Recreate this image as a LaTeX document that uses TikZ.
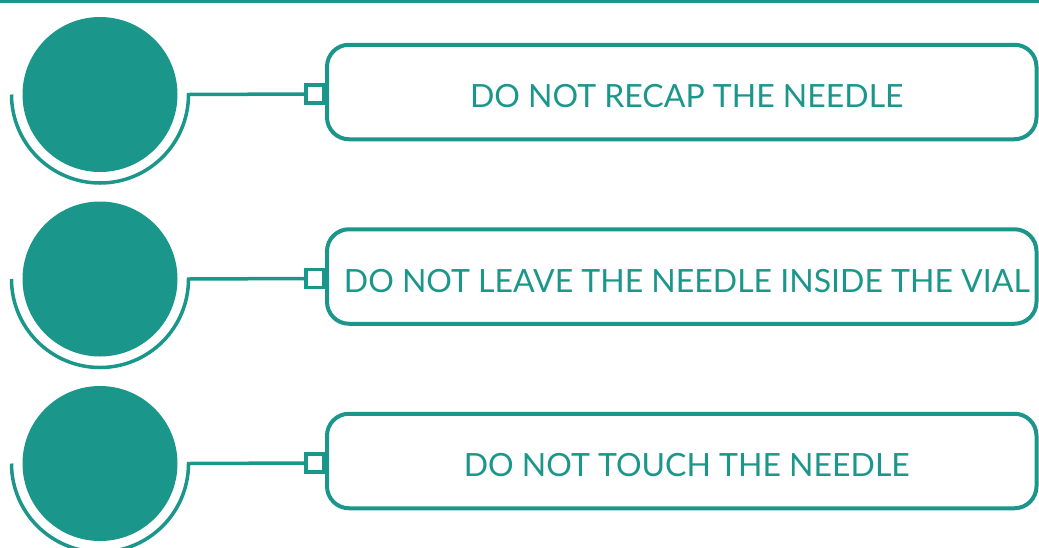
\documentclass[tikz,border=0pt]{standalone}
\usepackage{fontspec}
\setmainfont{Lato}
\usetikzlibrary{positioning}
\definecolor{needleteal}{RGB}{27,150,139}

\begin{document}
\begin{tikzpicture}[x=1pt,y=-1pt,
  disc/.style={circle,fill=needleteal,minimum size=155pt,inner sep=0pt},
  tag/.style={draw=needleteal,line width=3.5pt,minimum size=18pt,inner sep=0pt,fill=white},
  warnbox/.style={draw=needleteal,line width=4pt,rounded corners=22pt,minimum width=709.5pt,minimum height=94.5pt,inner sep=0pt,text height=31pt,text depth=0pt,text=needleteal,font=\fontsize{32}{38}\selectfont},
  ring/.style={draw=needleteal,line width=3.5pt}]
  \useasboundingbox (0,0) rectangle (1039,547);
  \draw[ring] (0,1.25) -- (1039,1.25);
  \foreach \i/\txt in {0/DO NOT RECAP THE NEEDLE,1/DO NOT LEAVE THE NEEDLE INSIDE THE VIAL,2/DO NOT TOUCH THE NEEDLE} {
    \node[disc] (disc\i) at (100,94.5+184.5*\i) {};
    \node[warnbox] (box\i) at (681.75,92+184.5*\i) {\hspace*{10pt}\txt};
    \node[tag] (tag\i) at (315,94+184.5*\i) {};
    \draw[ring] ([xshift=-88.5pt]disc\i.center) arc[start angle=180,end angle=0,radius=88.5] -- (tag\i.west);
  }
\end{tikzpicture}
\end{document}
